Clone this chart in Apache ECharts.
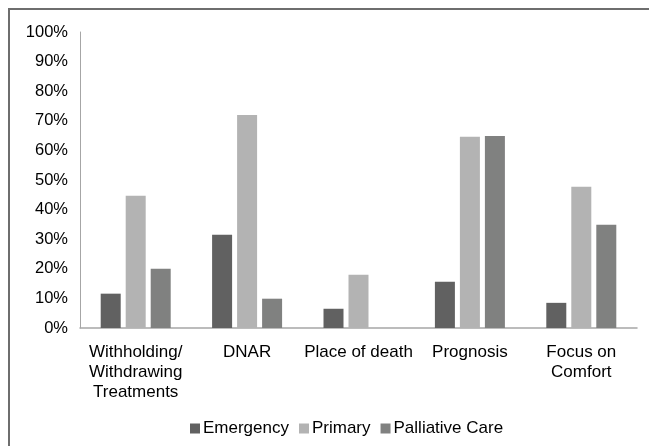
<!DOCTYPE html>
<html>
<head>
<meta charset="utf-8">
<script src="https://cdn.jsdelivr.net/npm/echarts@6/dist/echarts.min.js"></script>
<style>
  html, body { margin: 0; padding: 0; background: #fff; }
  #chart { width: 649px; height: 446px; }
</style>
</head>
<body>
<div id="chart"></div>
<script>
// Topics discussed, by care setting (share of respondents, %)
const categories = ['Withholding/\nWithdrawing\nTreatments', 'DNAR', 'Place of death', 'Prognosis', 'Focus on\nComfort'];
const emergency = [11.6, 31.5, 6.5, 15.6, 8.5];
const primary = [44.7, 72.0, 18.0, 64.6, 47.7];
const palliative = [20.0, 9.9, 0, 64.9, 34.9];
const seriesNames = ['Emergency', 'Primary', 'Palliative Care'];
const yTicks = [0, 10, 20, 30, 40, 50, 60, 70, 80, 90, 100];

const font = "'Liberation Sans', Arial, sans-serif";
const colors = ['#616161', '#b3b3b3', '#808180'];

const chart = echarts.init(document.getElementById('chart'), null, { renderer: 'canvas' });

function barSeries(name, data, color) {
  return {
    name: name,
    type: 'bar',
    data: data,
    barWidth: 20,
    barGap: '25%',
    itemStyle: { color: color },
    silent: true
  };
}

chart.setOption({
  animation: false,
  backgroundColor: '#ffffff',
  color: colors,
  graphic: [{
    type: 'rect',
    shape: { x: 9, y: 9, width: 700, height: 500 },
    style: { fill: 'none', stroke: '#6e6e6e', lineWidth: 2 },
    silent: true,
    z: 0
  }],
  grid: { left: 80, right: 12, top: 32, bottom: 118, containLabel: false },
  legend: {
    data: seriesNames,
    left: 185,
    top: 415,
    itemWidth: 10,
    itemHeight: 10,
    itemGap: 10,
    icon: 'rect',
    textStyle: { fontFamily: font, fontSize: 17, color: '#000', padding: [0, 0, 0, -2] }
  },
  xAxis: {
    type: 'category',
    data: categories,
    axisLine: { lineStyle: { color: '#a6a6a6', width: 1.5 } },
    axisTick: { show: false },
    axisLabel: {
      interval: 0,
      margin: 14,
      fontFamily: font,
      fontSize: 17,
      lineHeight: 20,
      color: '#000',
      align: 'center'
    }
  },
  yAxis: {
    type: 'value',
    min: yTicks[0],
    max: yTicks[yTicks.length - 1],
    interval: 10,
    splitLine: { show: false },
    axisLine: { show: true, lineStyle: { color: '#a6a6a6', width: 1 } },
    axisTick: { show: false },
    axisLabel: {
      margin: 12,
      fontFamily: font,
      fontSize: 16.5,
      color: '#000',
      formatter: function (v) { return v + '%'; }
    }
  },
  series: [
    barSeries(seriesNames[0], emergency, colors[0]),
    barSeries(seriesNames[1], primary, colors[1]),
    barSeries(seriesNames[2], palliative, colors[2])
  ]
});
</script>
</body>
</html>
